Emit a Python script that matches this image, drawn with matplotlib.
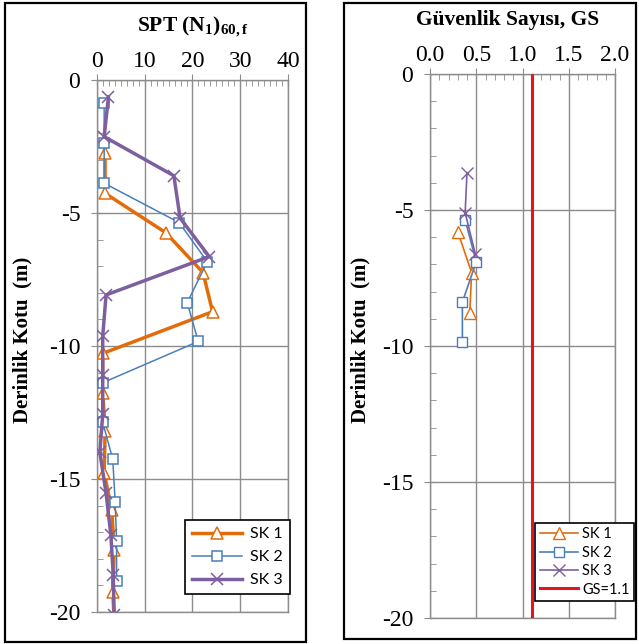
import matplotlib
matplotlib.use("Agg")
import matplotlib.pyplot as plt
from matplotlib.patches import Rectangle
from matplotlib.ticker import MultipleLocator

plt.rcParams["font.family"] = "Liberation Serif"
plt.rcParams["mathtext.fontset"] = "custom"
plt.rcParams["mathtext.rm"] = "Liberation Serif:bold"
plt.rcParams["mathtext.bf"] = "Liberation Serif:bold"
plt.rcParams["mathtext.it"] = "Liberation Serif:bold"

# SPT (N1)60,f profiles
spt_sk1_depth = [-2.76, -4.26, -5.74, -7.24, -8.71, -10.28, -11.75, -13.2, -14.76, -16.17, -17.67, -19.23, -20.7]
spt_sk1 = [1.7, 1.7, 14.4, 22.2, 24.2, 1.2, 1.2, 1.7, 1.5, 3.1, 3.6, 3.3, 3.7]
spt_sk2_depth = [-0.88, -2.36, -3.88, -5.36, -6.83, -8.37, -9.83, -11.38, -12.87, -14.26, -15.85, -17.32, -18.82]
spt_sk2 = [1.5, 1.5, 1.5, 17.2, 23.1, 18.9, 21.2, 1.2, 1.2, 3.3, 3.8, 4.1, 4.1]
spt_sk3_depth = [-0.63, -2.13, -3.6, -5.19, -6.64, -8.08, -9.62, -11.1, -12.56, -14.0, -15.54, -17.1, -18.6, -20.1]
spt_sk3 = [2.4, 1.5, 16.1, 17.4, 23.5, 1.9, 1.2, 1.2, 1.2, 0.6, 1.9, 2.9, 3.4, 3.6]

# safety factor GS
gs_sk1_depth = [-5.8, -7.3, -8.78]
gs_sk1 = [0.30, 0.45, 0.43]
gs_sk2_depth = [-5.37, -6.9, -8.39, -9.84]
gs_sk2 = [0.38, 0.50, 0.35, 0.35]
gs_sk3_depth = [-3.63, -5.1, -6.62]
gs_sk3 = [0.40, 0.38, 0.49]
gs_limit = 1.1

ORANGE = "#E36C0A"; BLUE = "#4A7EBB"; PURPLE = "#7D5FA0"; RED = "#E8141B"
GRIDC = "#8C8C8C"

W, H = 639, 644
fig = plt.figure(figsize=(W / 100, H / 100), dpi=100)

def rect(x0, x1, ytop, ybot):
    return [x0 / W, 1 - ybot / H, (x1 - x0) / W, (ybot - ytop) / H]

# outer frames of the two sub-charts
for (x0, y0, x1, y1) in [(5, 3, 306, 642), (344, 3, 636, 639)]:
    fig.patches.append(Rectangle((x0 / W, 1 - y1 / H), (x1 - x0) / W, (y1 - y0) / H,
                                 transform=fig.transFigure, fill=False, ec="black", lw=1.6))

def style(ax, xmax, xmajor, xminor):
    ax.set_xlim(0, xmax); ax.set_ylim(-20, 0)
    ax.xaxis.tick_top()
    ax.xaxis.set_major_locator(MultipleLocator(xmajor))
    ax.xaxis.set_minor_locator(MultipleLocator(xminor))
    ax.yaxis.set_major_locator(MultipleLocator(5))
    ax.yaxis.set_minor_locator(MultipleLocator(1))
    ax.grid(True, which="major", color=GRIDC, lw=1.0)
    for s in ax.spines.values():
        s.set_color(GRIDC); s.set_linewidth(1.0)
    ax.tick_params(which="major", direction="inout", length=8, color=GRIDC, labelsize=17, pad=2)
    ax.tick_params(which="minor", direction="in", length=4, color=GRIDC)
    ax.tick_params(axis="y", which="major", pad=8)

mk = dict(mfc="white", clip_on=True)
legkw = dict(frameon=True, fancybox=False, edgecolor="black", framealpha=1)

ax1 = fig.add_axes(rect(97, 288, 80, 612))
style(ax1, 40, 10, 1.25)
ax1.plot(spt_sk1, spt_sk1_depth, color=ORANGE, lw=2.5, marker="^", ms=9, mew=1.1, mec=ORANGE, label="SK 1", zorder=3, **mk)
ax1.plot(spt_sk2, spt_sk2_depth, color=BLUE, lw=1.1, marker="s", ms=7, mew=1.1, mec=BLUE, label="SK 2", zorder=4, **mk)
ax1.plot(spt_sk3, spt_sk3_depth, color=PURPLE, lw=2.5, marker="x", ms=9, mew=1.1, mec=PURPLE, label="SK 3", zorder=5, **mk)
ax1.xaxis.set_major_formatter(plt.FuncFormatter(lambda v, p: f"{v:g}"))
ax1.yaxis.set_major_formatter(plt.FuncFormatter(lambda v, p: f"{v:g}"))
leg1 = ax1.legend(loc="upper left", bbox_to_anchor=(185 / W, 1 - 520 / H), bbox_transform=fig.transFigure,
                  prop={"family": "Lato", "size": 11.5}, handlelength=3.1, borderpad=0.45,
                  labelspacing=0.55, handletextpad=0.5, borderaxespad=0, **legkw)
leg1.get_frame().set_linewidth(1.2)

ax2 = fig.add_axes(rect(430, 615, 74, 618))
style(ax2, 2.0, 0.5, 0.1)
ax2.plot(gs_sk1, gs_sk1_depth, color=ORANGE, lw=1.2, marker="^", ms=8, mew=1.0, mec=ORANGE, label="SK 1", zorder=3, **mk)
ax2.plot(gs_sk2, gs_sk2_depth, color=BLUE, lw=1.2, marker="s", ms=6.5, mew=1.0, mec=BLUE, label="SK 2", zorder=4, **mk)
ax2.plot(gs_sk3, gs_sk3_depth, color=PURPLE, lw=1.2, marker="x", ms=8, mew=1.0, mec=PURPLE, label="SK 3", zorder=5, **mk)
ax2.axvline(gs_limit, color=RED, lw=2.2, label="GS=1.1", zorder=6)
ax2.xaxis.set_major_formatter(plt.FuncFormatter(lambda v, p: f"{v:.1f}"))
ax2.yaxis.set_major_formatter(plt.FuncFormatter(lambda v, p: f"{v:g}"))
leg2 = ax2.legend(loc="upper right", bbox_to_anchor=(634 / W, 1 - 523 / H), bbox_transform=fig.transFigure,
                  prop={"family": "Lato", "size": 10.5}, handlelength=2.6, borderpad=0.3,
                  labelspacing=0.3, handletextpad=0.3, borderaxespad=0, **legkw)
leg2.get_frame().set_linewidth(1.2)

fig.text(193 / W, 1 - 27 / H, r"SPT (N$_{1}$)$_{60,f}$", ha="center", va="center",
         fontsize=15.5, fontweight="bold")
fig.text(508 / W, 1 - 20 / H, "Güvenlik Sayısı, GS", ha="center", va="center",
         fontsize=15.5, fontweight="bold")
for x in (22, 360):
    fig.text(x / W, 1 - 340 / H, "Derinlik Kotu  (m)", ha="center", va="center",
             rotation=90, fontsize=15, fontweight="bold")

fig.savefig("out.png", dpi=100)
